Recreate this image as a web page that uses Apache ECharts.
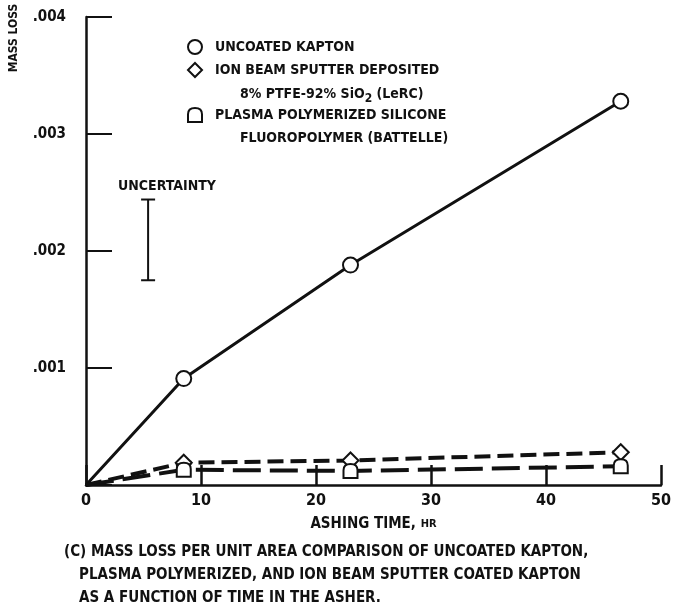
<!DOCTYPE html>
<html>
<head>
<meta charset="utf-8">
<script src="https://cdn.jsdelivr.net/npm/echarts@6/dist/echarts.min.js"></script>
<style>
html,body{margin:0;padding:0;background:#fff;}
#chart{width:676px;height:616px;}
</style>
</head>
<body>
<div id="chart"></div>
<script>
// ---- data ----
var hours = [0, 8.5, 23, 46.5];
var uncoatedKapton = [0, 0.00091, 0.00188, 0.00328];
var ionBeamPTFE = [0, 0.00019, 0.00021, 0.00028];
var plasmaPolymer = [0, 0.00013, 0.00012, 0.00016];
var uncertaintyX = 5.4;
var uncertaintyRange = [0.00175, 0.00244];
var xTickLabels = ['0', '10', '20', '30', '40', '50'];
var yTickLabels = ['', '.001', '.002', '.003', '.004'];
var seriesNames = ['UNCOATED KAPTON', 'ION BEAM SPUTTER DEPOSITED', 'PLASMA POLYMERIZED SILICONE'];

var FONT = "'Liberation Sans Narrow','DejaVu Sans Condensed',sans-serif";
var INK = '#111';
var plasmaSymbol = 'path://M0,10 L0,4.5 Q0,0 5,0 Q10,0 10,4.5 L10,10 Z';

// origin point is a line start only (no marker drawn there)
function pairs(ys){
  return hours.map(function(h,i){
    var item = {value: [h, ys[i]]};
    if (h === 0) item.symbol = 'none';
    return item;
  });
}

var chart = echarts.init(document.getElementById('chart'), null, {renderer:'canvas'});

var legendText = {fontFamily: FONT, fontSize: 14, fontWeight: 'bold', color: INK, padding: [0, 0, 0, 8]};
function legendAt(name, icon, top){
  return {
    data: [{name: name, icon: icon}],
    left: 182, top: top, itemWidth: 14, itemHeight: 14, itemGap: 0,
    textStyle: legendText, selectedMode: false,
    itemStyle: {color: '#fff', borderColor: INK, borderWidth: 2}
  };
}

var option = {
  animation: false,
  backgroundColor: '#fff',
  grid: {left: 86, right: 15, top: 17, bottom: 131, containLabel: false},
  legend: [
    legendAt(seriesNames[0], 'circle', 34),
    legendAt(seriesNames[1], 'diamond', 57),
    legendAt(seriesNames[2], plasmaSymbol, 102)
  ],
  xAxis: {
    type: 'value', min: 0, max: 50, interval: 10,
    axisLine: {lineStyle: {color: INK, width: 2.5}},
    axisTick: {inside: true, length: 20, lineStyle: {color: INK, width: 2.5}},
    axisLabel: {
      margin: 8, fontFamily: FONT, fontSize: 16, fontWeight: 'bold', color: INK,
      formatter: function(v){ return xTickLabels[Math.round(v/10)]; }
    },
    splitLine: {show: false},
    name: 'ASHING TIME, {s|HR}',
    nameLocation: 'middle', nameGap: 32,
    nameTextStyle: {fontFamily: FONT, fontSize: 15, fontWeight: 'bold', color: INK,
      rich: {s: {fontFamily: FONT, fontSize: 11, fontWeight: 'bold', color: INK}}}
  },
  yAxis: {
    type: 'value', min: 0, max: 0.004, interval: 0.001,
    axisLine: {lineStyle: {color: INK, width: 2.5}},
    axisTick: {inside: true, length: 26, lineStyle: {color: INK, width: 2}},
    axisLabel: {
      margin: 20, fontFamily: FONT, fontSize: 15, fontWeight: 'bold', color: INK,
      formatter: function(v){ return yTickLabels[Math.round(v/0.001)]; }
    },
    splitLine: {show: false}
  },
  series: [
    {
      name: seriesNames[0], type: 'line', data: pairs(uncoatedKapton),
      symbol: 'circle', symbolSize: 15, showSymbol: true,
      lineStyle: {color: INK, width: 3},
      itemStyle: {color: '#fff', borderColor: INK, borderWidth: 2},
      z: 3
    },
    {
      name: seriesNames[1], type: 'line', data: pairs(ionBeamPTFE),
      symbol: 'diamond', symbolSize: 16,
      lineStyle: {color: INK, width: 4, type: [16, 7]},
      itemStyle: {color: '#fff', borderColor: INK, borderWidth: 2},
      z: 3
    },
    {
      name: seriesNames[2], type: 'line', data: pairs(plasmaPolymer),
      symbol: plasmaSymbol, symbolSize: 14,
      lineStyle: {color: INK, width: 4, type: [28, 9]},
      itemStyle: {color: '#fff', borderColor: INK, borderWidth: 2},
      z: 3
    },
    {
      name: 'uncertainty', type: 'custom',
      data: [[uncertaintyX, uncertaintyRange[0], uncertaintyRange[1]]],
      renderItem: function(params, api){
        var lo = api.coord([api.value(0), api.value(1)]);
        var hi = api.coord([api.value(0), api.value(2)]);
        var w = 7;
        var st = {stroke: INK, lineWidth: 2};
        return {type: 'group', children: [
          {type: 'line', shape: {x1: lo[0], y1: lo[1], x2: hi[0], y2: hi[1]}, style: st},
          {type: 'line', shape: {x1: lo[0]-w, y1: lo[1], x2: lo[0]+w, y2: lo[1]}, style: st},
          {type: 'line', shape: {x1: hi[0]-w, y1: hi[1], x2: hi[0]+w, y2: hi[1]}, style: st},
          {type: 'text', style: {text: 'UNCERTAINTY', x: hi[0]-30, y: hi[1]-6,
            textVerticalAlign: 'bottom', font: 'bold 14px ' + FONT, fill: INK}}
        ]};
      },
      z: 4
    }
  ],
  graphic: [
    {type: 'text', x: 14, y: 38, rotation: Math.PI/2, style: {
      text: 'MASS LOSS', font: 'bold 12px ' + FONT, fill: INK,
      textAlign: 'center', textVerticalAlign: 'middle'}},
    {type: 'text', left: 240, top: 87, style: {
      rich: {
        t: {fontFamily: FONT, fontSize: 14, fontWeight: 'bold', fill: INK},
        sub: {fontFamily: FONT, fontSize: 12, fontWeight: 'bold', fill: INK, padding: [10, 0, 0, 0]}
      },
      text: '{t|8% PTFE-92% SiO}{sub|2}{t| (LeRC)}'}},
    {type: 'text', left: 240, top: 131, style: {
      text: 'FLUOROPOLYMER (BATTELLE)', font: 'bold 14px ' + FONT, fill: INK}},
    {type: 'text', left: 64, top: 545, style: {
      text: '(C) MASS LOSS PER UNIT AREA COMPARISON OF UNCOATED KAPTON,', font: 'bold 15px ' + FONT, fill: INK}},
    {type: 'text', left: 79, top: 568, style: {
      text: 'PLASMA POLYMERIZED, AND ION BEAM SPUTTER COATED KAPTON', font: 'bold 15px ' + FONT, fill: INK}},
    {type: 'text', left: 79, top: 591, style: {
      text: 'AS A FUNCTION OF TIME IN THE ASHER.', font: 'bold 15px ' + FONT, fill: INK}}
  ]
};
chart.setOption(option);
</script>
</body>
</html>
